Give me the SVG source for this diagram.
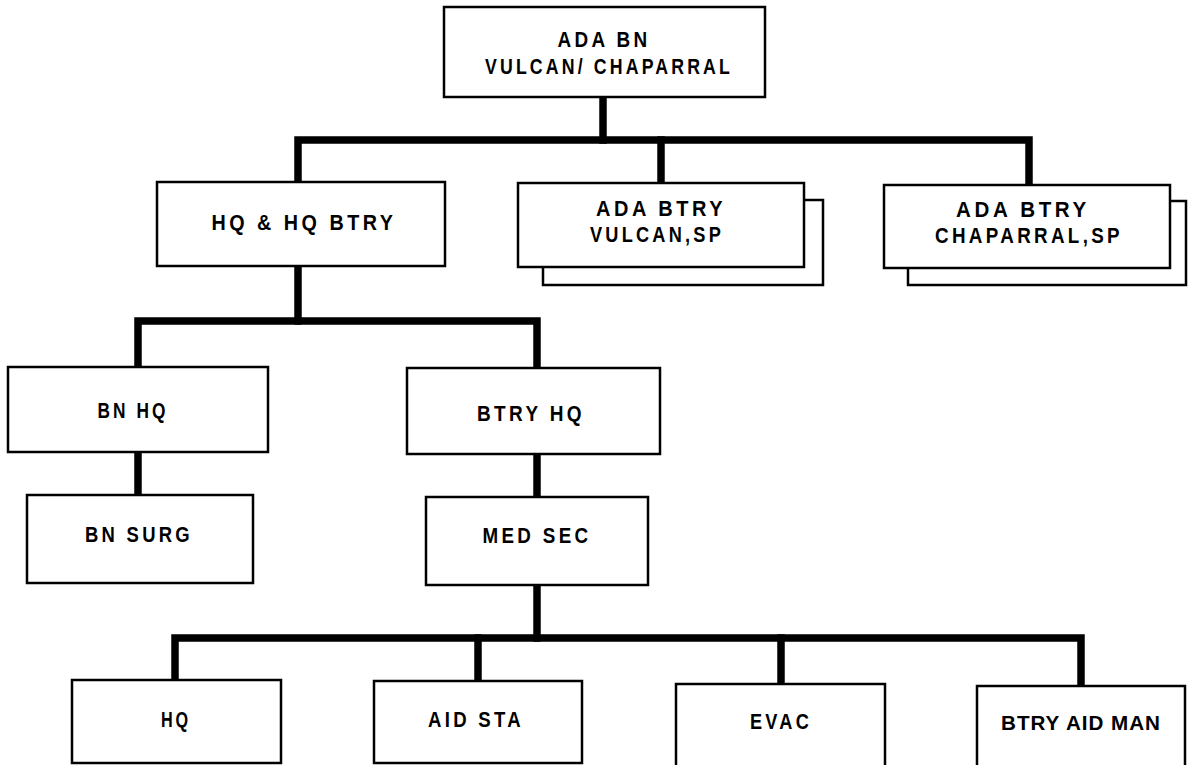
<svg xmlns="http://www.w3.org/2000/svg" width="1188" height="765" viewBox="0 0 1188 765">
<style>
.box{fill:#fff;stroke:#000;stroke-width:2.5}
.conn{fill:none;stroke:#000;stroke-width:7.5;stroke-linejoin:miter;stroke-linecap:square}
text{font-family:"Liberation Sans",Arial,sans-serif;font-weight:bold;font-size:22.5px;letter-spacing:4px;fill:#000;text-anchor:middle}
text.tight{letter-spacing:1px;font-size:21px}
</style>
<rect width="1188" height="765" fill="#fff"/>
<g id="connectors">
<path class="conn" d="M603,97 V140"/>
<path class="conn" d="M298,182 V140 H1029 V185"/>
<path class="conn" d="M661,140 V183"/>
<path class="conn" d="M298,266 V321"/>
<path class="conn" d="M138,367 V321 H537 V368"/>
<path class="conn" d="M138,452 V495"/>
<path class="conn" d="M537,454 V497"/>
<path class="conn" d="M537,585 V638"/>
<path class="conn" d="M175,680 V638 H1081 V686"/>
<path class="conn" d="M478,638 V681"/>
<path class="conn" d="M781,638 V684"/>
</g>
<g id="ada-bn">
<rect class="box" x="444" y="7" width="321" height="90"/>
<text x="604" y="47" textLength="93" lengthAdjust="spacingAndGlyphs">ADA  BN</text>
<text x="609" y="74" textLength="248" lengthAdjust="spacingAndGlyphs">VULCAN/ CHAPARRAL</text>
</g>
<g id="hq-hq-btry">
<rect class="box" x="157" y="182" width="288" height="84"/>
<text x="304" y="230" textLength="185" lengthAdjust="spacingAndGlyphs">HQ &amp; HQ BTRY</text>
</g>
<g id="ada-btry-vulcan">
<rect class="box" x="543" y="200" width="280" height="85"/>
<rect class="box" x="518" y="183" width="286" height="84"/>
<text x="661" y="216" textLength="130" lengthAdjust="spacingAndGlyphs">ADA BTRY</text>
<text x="657" y="242" textLength="134" lengthAdjust="spacingAndGlyphs">VULCAN,SP</text>
</g>
<g id="ada-btry-chaparral">
<rect class="box" x="908" y="201" width="278" height="84"/>
<rect class="box" x="884" y="185" width="286" height="83"/>
<text x="1023" y="217" textLength="134" lengthAdjust="spacingAndGlyphs">ADA BTRY</text>
<text x="1029" y="243" textLength="188" lengthAdjust="spacingAndGlyphs">CHAPARRAL,SP</text>
</g>
<g id="bn-hq">
<rect class="box" x="8" y="367" width="260" height="85"/>
<text x="133" y="418" textLength="71" lengthAdjust="spacingAndGlyphs">BN HQ</text>
</g>
<g id="bn-surg">
<rect class="box" x="27" y="495" width="226" height="88"/>
<text x="139" y="542" textLength="108" lengthAdjust="spacingAndGlyphs">BN SURG</text>
</g>
<g id="btry-hq">
<rect class="box" x="407" y="368" width="253" height="86"/>
<text x="531" y="421" textLength="108" lengthAdjust="spacingAndGlyphs">BTRY  HQ</text>
</g>
<g id="med-sec">
<rect class="box" x="426" y="497" width="222" height="88"/>
<text x="537" y="543" textLength="109" lengthAdjust="spacingAndGlyphs">MED SEC</text>
</g>
<g id="hq">
<rect class="box" x="72" y="680" width="209" height="83"/>
<text x="176" y="727" textLength="30" lengthAdjust="spacingAndGlyphs">HQ</text>
</g>
<g id="aid-sta">
<rect class="box" x="374" y="681" width="208" height="82"/>
<text x="476" y="727" textLength="96" lengthAdjust="spacingAndGlyphs">AID STA</text>
</g>
<g id="evac">
<rect class="box" x="676" y="684" width="209" height="90"/>
<text x="781" y="729" textLength="62" lengthAdjust="spacingAndGlyphs">EVAC</text>
</g>
<g id="btry-aid-man">
<rect class="box" x="977" y="686" width="208" height="90"/>
<text class="tight" x="1081" y="730" textLength="160" lengthAdjust="spacingAndGlyphs">BTRY AID MAN</text>
</g>
</svg>
